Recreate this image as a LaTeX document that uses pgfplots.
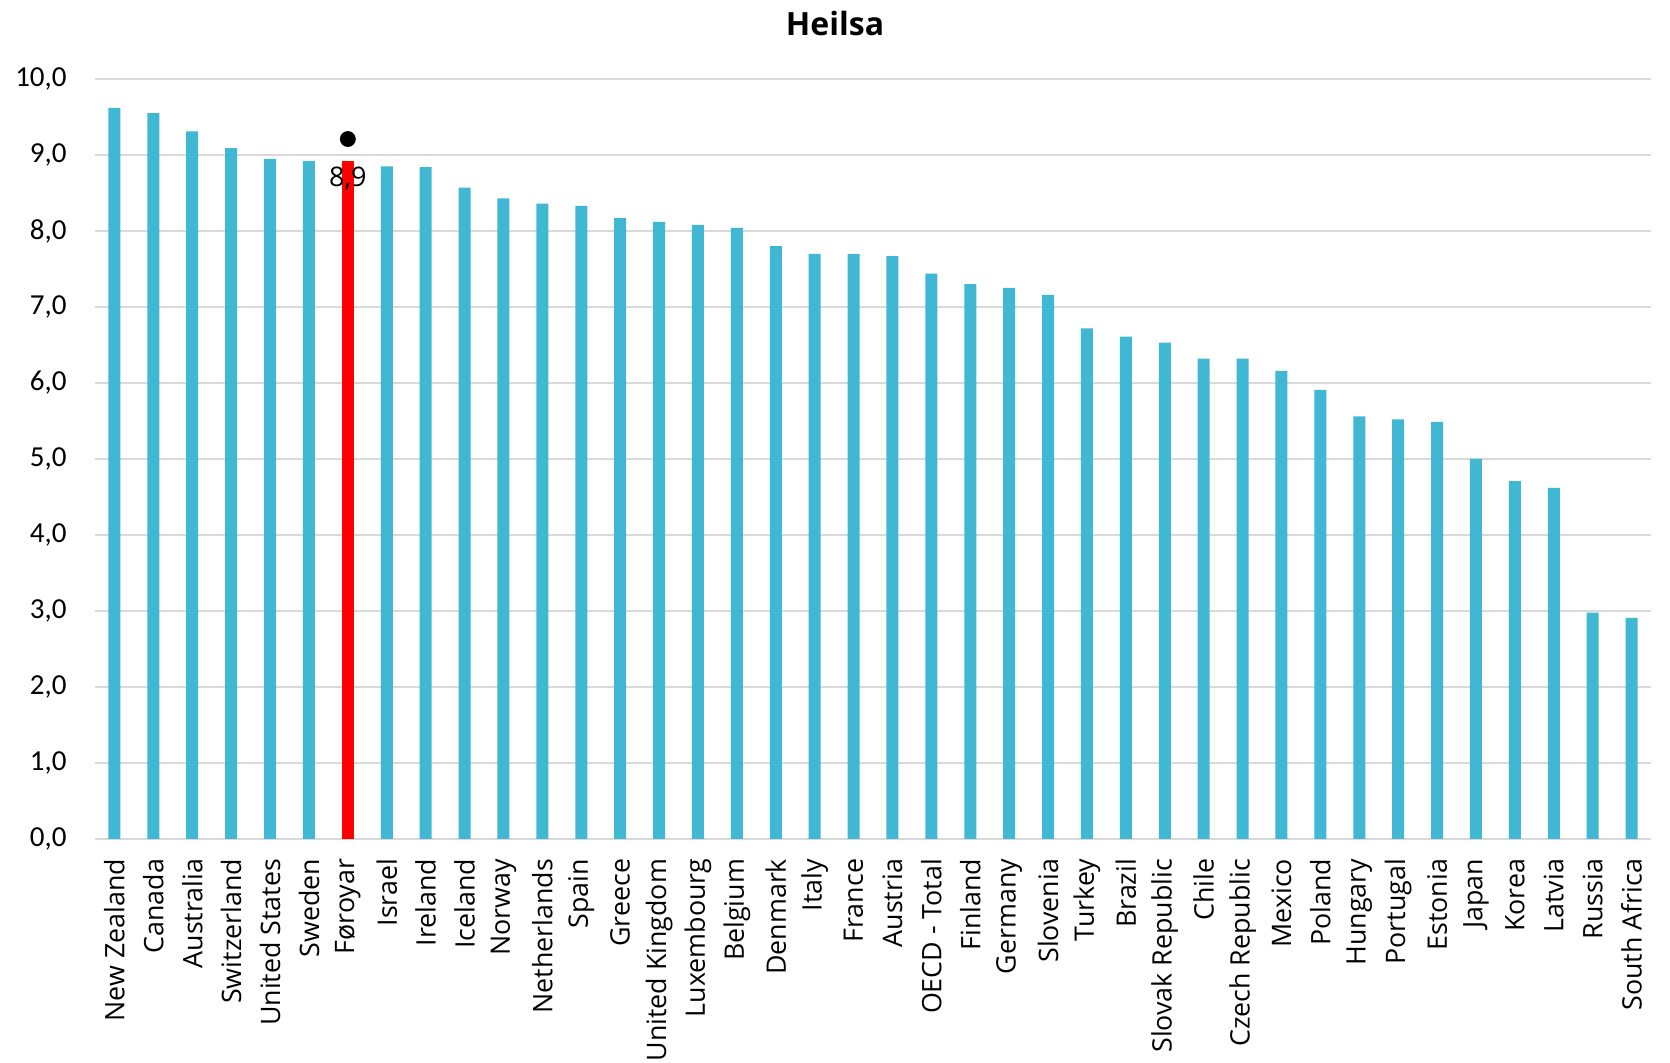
\documentclass[border=0pt]{standalone}
\usepackage{fontspec}
\setmainfont{Open Sans}
\newfontfamily\tickfont{Carlito}
\usepackage{pgfplots}
\pgfplotsset{compat=1.18}
\definecolor{barblue}{RGB}{65,184,211}
\definecolor{gridgray}{RGB}{217,217,217}
\begin{document}
\begin{tikzpicture}
\useasboundingbox (-47.5pt,-112pt) rectangle (787.5pt,419.5pt);
\begin{axis}[
  scale only axis, width=778pt, height=380pt,
  xmin=-0.5, xmax=39.5, ymin=0, ymax=10,
  ybar, bar width=6pt, bar shift=0pt,
  ytick={0,1,...,10},
  yticklabels={{0,0},{1,0},{2,0},{3,0},{4,0},{5,0},{6,0},{7,0},{8,0},{9,0},{10,0}},
  yticklabel style={font=\tickfont\fontsize{14.5}{14.5}\selectfont, inner sep=0pt, xshift=-14pt},
  xtick={0,1,...,39},
  xticklabels={New Zealand,Canada,Australia,Switzerland,United States,Sweden,Føroyar,Israel,Ireland,Iceland,Norway,Netherlands,Spain,Greece,United Kingdom,Luxembourg,Belgium,Denmark,Italy,France,Austria,OECD - Total,Finland,Germany,Slovenia,Turkey,Brazil,Slovak Republic,Chile,Czech Republic,Mexico,Poland,Hungary,Portugal,Estonia,Japan,Korea,Latvia,Russia,South Africa},
  xticklabel style={yshift=-5.5pt, rotate=90, anchor=east, inner sep=0pt, font=\fontsize{13.4}{13.4}\selectfont},
  ymajorgrids, grid style={gridgray, line width=1pt},
  axis line style={draw=none}, tick style={draw=none},
  title={Heilsa},
  title style={at={(0.4756,1)}, anchor=center, yshift=21.5pt, font=\bfseries\fontsize{16}{16}\selectfont},
  clip=false,
]
\addplot[fill=barblue, draw=none] coordinates {
(0,9.62) (1,9.55) (2,9.31) (3,9.09) (4,8.95) (5,8.92)
(7,8.85) (8,8.84) (9,8.57) (10,8.43) (11,8.36) (12,8.33) (13,8.17)
(14,8.12) (15,8.08) (16,8.04) (17,7.80) (18,7.70) (19,7.70) (20,7.67)
(21,7.44) (22,7.30) (23,7.25) (24,7.16) (25,6.72) (26,6.61) (27,6.53)
(28,6.32) (29,6.32) (30,6.16) (31,5.91) (32,5.56) (33,5.52) (34,5.49)
(35,5.00) (36,4.71) (37,4.62) (38,2.98) (39,2.91)};
\addplot[fill=red, draw=none] coordinates {(6,8.92)};
\addplot[only marks, mark=*, mark size=3.75pt, black,
  nodes near coords={8{,}9},
  every node near coord/.append style={anchor=center, yshift=-19.5pt, font=\fontsize{13.5}{13.5}\selectfont, text=black}]
  coordinates {(6,9.21)};
\end{axis}
\end{tikzpicture}
\end{document}
